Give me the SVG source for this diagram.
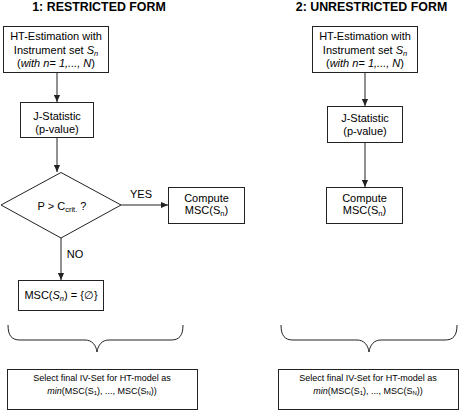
<svg xmlns="http://www.w3.org/2000/svg" width="459" height="411" viewBox="0 0 459 411">
<defs>
<style>
.box{fill:#fff;stroke:#222;stroke-width:1}
.t{font-family:"Liberation Sans",Arial,sans-serif;font-size:11px;fill:#000;text-anchor:middle}
.s{font-size:9px}
.title{font-family:"Liberation Sans",Arial,sans-serif;font-size:12.4px;font-weight:bold;fill:#000;text-anchor:middle}
.i{font-style:italic}
.sub{font-size:7.5px}
.line{fill:none;stroke:#222;stroke-width:1}
</style>
<marker id="ah" viewBox="0 0 8 8" refX="8" refY="4" markerWidth="7" markerHeight="7" markerUnits="userSpaceOnUse" orient="auto">
<path d="M0,0.5 L8,4 L0,7.5 Z" fill="#222"/>
</marker>
</defs>
<rect width="459" height="411" fill="#fff"/>
<text class="title" x="99" y="10.5">1: RESTRICTED FORM</text>
<text class="title" x="371.5" y="10.5">2: UNRESTRICTED FORM</text>

<g id="connectors">
<line class="line" x1="57" y1="73" x2="57" y2="102" marker-end="url(#ah)"/>
<line class="line" x1="57" y1="137" x2="57" y2="172" marker-end="url(#ah)"/>
<line class="line" x1="121" y1="205" x2="168" y2="205" marker-end="url(#ah)"/>
<line class="line" x1="61" y1="238" x2="61" y2="280" marker-end="url(#ah)"/>
<line class="line" x1="365" y1="73" x2="365" y2="106" marker-end="url(#ah)"/>
<line class="line" x1="365" y1="143" x2="365" y2="187" marker-end="url(#ah)"/>
<text class="t" x="141" y="198">YES</text>
<text class="t" x="75" y="258">NO</text>
</g>

<g id="l-est">
<rect class="box" x="3.5" y="26.5" width="105" height="46"/>
<text class="t" x="56" y="40">HT-Estimation with</text>
<text class="t" x="56" y="53.5">Instrument set <tspan class="i">S</tspan><tspan class="i sub" dy="2.5">n</tspan></text>
<text class="t" x="56" y="67">(<tspan class="i">with n</tspan>= <tspan class="i">1,..., N</tspan>)</text>
</g>
<g id="l-j">
<rect class="box" x="20.5" y="102.5" width="73" height="35"/>
<text class="t" x="57" y="119.5">J-Statistic</text>
<text class="t" x="57" y="132.5">(p-value)</text>
</g>
<g id="l-dec">
<path class="box" d="M61,172.5 L121,205 L61,238 L1,205 Z"/>
<text class="t" x="62" y="210">P &gt; C<tspan class="sub" dy="2">crit.</tspan><tspan dy="-2"> ?</tspan></text>
</g>
<g id="l-comp">
<rect class="box" x="168.5" y="187.5" width="76" height="36"/>
<text class="t" x="206.5" y="201.5">Compute</text>
<text class="t" x="206.5" y="214">MSC(S<tspan class="sub" dy="2">n</tspan><tspan dy="-2">)</tspan></text>
</g>
<g id="l-empty">
<rect class="box" x="18.5" y="280.5" width="85" height="30"/>
<text class="t" x="61" y="299">MSC(<tspan class="i">S</tspan><tspan class="i sub" dy="2">n</tspan><tspan dy="-2">) = {∅}</tspan></text>
</g>
<g id="l-brace">
<path class="line" d="M8,325 C8,336 12,340 20,340 L85,340 C92,340 96,345 97,352 C98,345 102,340 109,340 L171,340 C179,340 183,336 183,325"/>
</g>
<g id="l-sel">
<rect class="box" x="7.5" y="369.5" width="190" height="40"/>
<text class="t s" x="102" y="381">Select final IV-Set for HT-model as</text>
<text class="t s" x="102" y="393.5"><tspan class="i">min</tspan>(MSC(S<tspan class="sub" dy="1.5" style="font-size:6px">1</tspan><tspan dy="-1.5">), ..., MSC(S</tspan><tspan class="sub" dy="1.5" style="font-size:6px">N</tspan><tspan dy="-1.5">))</tspan></text>
</g>

<g id="r-est">
<rect class="box" x="312.5" y="26.5" width="105" height="46"/>
<text class="t" x="365" y="40">HT-Estimation with</text>
<text class="t" x="365" y="53.5">Instrument set <tspan class="i">S</tspan><tspan class="i sub" dy="2.5">n</tspan></text>
<text class="t" x="365" y="67">(<tspan class="i">with n</tspan>= <tspan class="i">1,..., N</tspan>)</text>
</g>
<g id="r-j">
<rect class="box" x="327.5" y="106.5" width="75" height="36"/>
<text class="t" x="365" y="122">J-Statistic</text>
<text class="t" x="365" y="135">(p-value)</text>
</g>
<g id="r-comp">
<rect class="box" x="326.5" y="187.5" width="76" height="36"/>
<text class="t" x="364.5" y="201.5">Compute</text>
<text class="t" x="364.5" y="214">MSC(S<tspan class="sub" dy="2">n</tspan><tspan dy="-2">)</tspan></text>
</g>
<g id="r-brace">
<path class="line" d="M281,325 C281,336 285,340 293,340 L357,340 C364,340 368,345 369,352 C370,345 374,340 381,340 L445,340 C453,340 457,336 457,325"/>
</g>
<g id="r-sel">
<rect class="box" x="278.5" y="369.5" width="180" height="40"/>
<text class="t s" x="368" y="381">Select final IV-Set for HT-model as</text>
<text class="t s" x="368" y="393.5"><tspan class="i">min</tspan>(MSC(S<tspan class="sub" dy="1.5" style="font-size:6px">1</tspan><tspan dy="-1.5">), ..., MSC(S</tspan><tspan class="sub" dy="1.5" style="font-size:6px">N</tspan><tspan dy="-1.5">))</tspan></text>
</g>
</svg>
